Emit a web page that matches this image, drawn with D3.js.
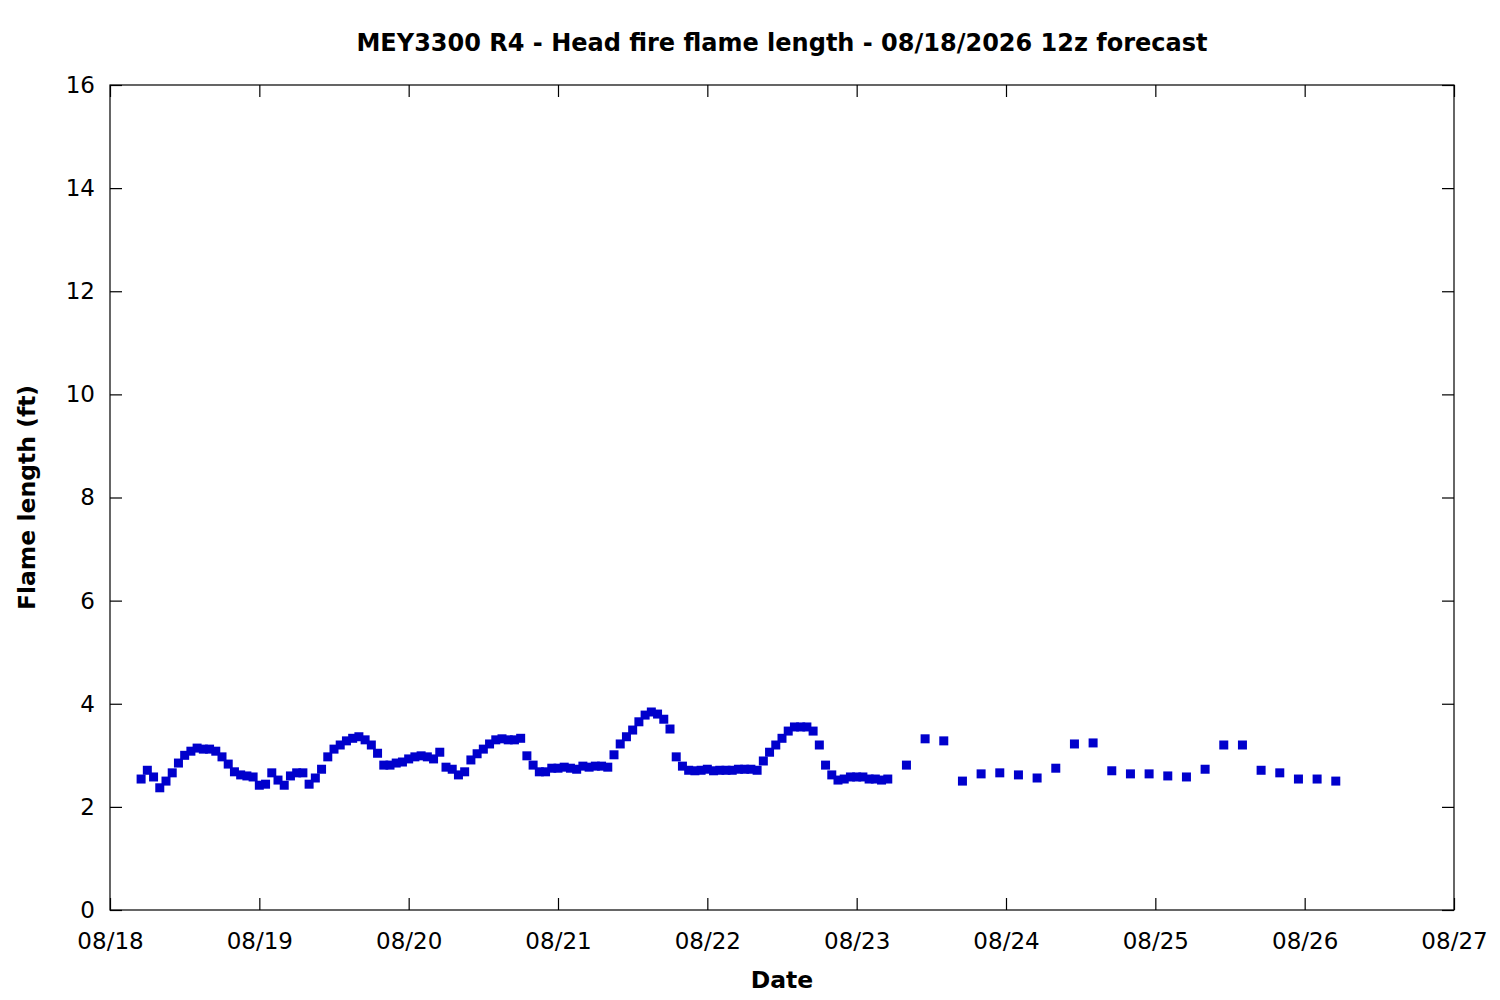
<!DOCTYPE html>
<html>
<head>
<meta charset="utf-8">
<script src="https://cdn.jsdelivr.net/npm/d3@7"></script>
<style>
  html, body { margin: 0; padding: 0; background: #fff; overflow: hidden; }
  #canvas svg { display: block; }
  #canvas text { font-family: "DejaVu Sans", sans-serif; fill: #000; }
</style>
</head>
<body>
<div id="canvas"></div>
<script>
"use strict";

/* chart text */
const chartTitle = "MEY3300 R4 - Head fire flame length - 08/18/2026 12z forecast";
const xLabel = "Date";
const yLabel = "Flame length (ft)";

/* hourly forecast, 08/18 05h .. 08/23 05h */
const hourlyStart = "2026-08-18T05:00:00Z";
const hourlyValues = [
  2.54, 2.71, 2.58, 2.37, 2.50, 2.66, 2.85, 3.00, 3.08, 3.14,
  3.12, 3.12, 3.08, 2.97, 2.83, 2.68, 2.62, 2.60, 2.58, 2.42,
  2.44, 2.66, 2.52, 2.42, 2.60, 2.66, 2.66, 2.44, 2.56, 2.73,
  2.97, 3.12, 3.20, 3.28, 3.33, 3.36, 3.30, 3.20, 3.04, 2.81,
  2.81, 2.85, 2.87, 2.93, 2.97, 2.99, 2.97, 2.93, 3.06, 2.77,
  2.73, 2.62, 2.68, 2.91, 3.03, 3.12, 3.22, 3.30, 3.32, 3.30,
  3.30, 3.33, 2.99, 2.81, 2.68, 2.68, 2.75, 2.75, 2.77, 2.75,
  2.73, 2.79, 2.77, 2.79, 2.79, 2.77, 3.01, 3.22, 3.36, 3.49,
  3.65, 3.78, 3.84, 3.80, 3.70, 3.51, 2.97, 2.79, 2.71, 2.70,
  2.71, 2.73, 2.70, 2.71, 2.71, 2.71, 2.73, 2.73, 2.73, 2.71,
  2.89, 3.06, 3.20, 3.33, 3.47, 3.55, 3.55, 3.55, 3.47, 3.20,
  2.81, 2.62, 2.52, 2.54, 2.58, 2.58, 2.58, 2.54, 2.54, 2.52,
  2.54
];

/* 3-hourly forecast, 08/23 08h .. 08/26 05h */
const threeHourlyStart = "2026-08-23T08:00:00Z";
const threeHourlyValues = [
  2.81, 3.32, 3.28, 2.50, 2.64, 2.66, 2.62, 2.56, 2.75, 3.22,
  3.24, 2.70, 2.64, 2.64, 2.60, 2.58, 2.73, 3.20, 3.20, 2.71,
  2.66, 2.54, 2.54, 2.50
];

/* axes */
const xStart = "2026-08-18T00:00:00Z";
const xEnd = "2026-08-27T00:00:00Z";
const yTicks = [0, 2, 4, 6, 8, 10, 12, 14, 16];

/* drawing config */
const svgWidth = 1500;
const svgHeight = 1000;
const margin = { top: 85, right: 46, bottom: 90, left: 110 };
const innerWidth = svgWidth - margin.left - margin.right;
const innerHeight = svgHeight - margin.top - margin.bottom;
const pointColor = "#0000cc";
const pointSize = 9;
const tickLen = 12;

// build the point list
const points = [];
const t0 = new Date(hourlyStart);
hourlyValues.forEach((v, i) => points.push({ t: d3.utcHour.offset(t0, i), v: v }));
const t1 = new Date(threeHourlyStart);
threeHourlyValues.forEach((v, i) => points.push({ t: d3.utcHour.offset(t1, i * 3), v: v }));

const svg = d3.select("#canvas")
  .append("svg")
  .attr("width", svgWidth)
  .attr("height", svgHeight);

const g = svg.append("g")
  .attr("transform", `translate(${margin.left},${margin.top})`);

// scales
const xScale = d3.scaleUtc()
  .domain([new Date(xStart), new Date(xEnd)])
  .range([0, innerWidth]);

const yScale = d3.scaleLinear()
  .domain([0, 16])
  .range([innerHeight, 0]);

const dayTicks = d3.utcDay.range(new Date(xStart), d3.utcDay.offset(new Date(xEnd), 1));

// axes, gnuplot style: ticks pointing in, mirrored on top/right
const xAxis = d3.axisBottom(xScale)
  .tickValues(dayTicks)
  .tickFormat(d3.utcFormat("%m/%d"))
  .tickSizeInner(-tickLen)
  .tickSizeOuter(0)
  .tickPadding(23);

const yAxis = d3.axisLeft(yScale)
  .tickValues(yTicks)
  .tickFormat(d3.format("d"))
  .tickSizeInner(-tickLen)
  .tickSizeOuter(0)
  .tickPadding(15);

g.append("g")
  .attr("transform", `translate(0,${innerHeight})`)
  .call(xAxis);

g.append("g").call(yAxis);

// mirrored ticks (no labels)
const topAxis = g.append("g")
  .call(d3.axisTop(xScale).tickValues(dayTicks).tickSizeInner(-tickLen).tickSizeOuter(0));
const rightAxis = g.append("g")
  .attr("transform", `translate(${innerWidth},0)`)
  .call(d3.axisRight(yScale).tickValues(yTicks).tickSizeInner(-tickLen).tickSizeOuter(0));
topAxis.selectAll("text").remove();
rightAxis.selectAll("text").remove();

g.selectAll(".domain").remove();
g.selectAll(".tick line").attr("stroke", "#000").attr("stroke-width", 1.2);
g.selectAll(".tick text")
  .attr("font-size", "23px")
  .attr("font-family", "DejaVu Sans, sans-serif");

// frame
g.append("rect")
  .attr("width", innerWidth)
  .attr("height", innerHeight)
  .attr("fill", "none")
  .attr("stroke", "#000")
  .attr("stroke-width", 1.2);

// points (filled squares)
g.selectAll("rect.pt")
  .data(points)
  .enter()
  .append("rect")
  .attr("class", "pt")
  .attr("x", d => xScale(d.t) - pointSize / 2)
  .attr("y", d => yScale(d.v) - pointSize / 2)
  .attr("width", pointSize)
  .attr("height", pointSize)
  .attr("fill", pointColor);

// title and labels
svg.append("text")
  .attr("x", margin.left + innerWidth / 2)
  .attr("y", 51)
  .attr("text-anchor", "middle")
  .attr("font-size", "24px")
  .attr("font-weight", "bold")
  .text(chartTitle);

svg.append("text")
  .attr("x", margin.left + innerWidth / 2)
  .attr("y", 988)
  .attr("text-anchor", "middle")
  .attr("font-size", "23.5px")
  .attr("font-weight", "bold")
  .text(xLabel);

svg.append("text")
  .attr("transform", `translate(35,${margin.top + innerHeight / 2}) rotate(-90)`)
  .attr("text-anchor", "middle")
  .attr("font-size", "23.5px")
  .attr("font-weight", "bold")
  .text(yLabel);
</script>
</body>
</html>
